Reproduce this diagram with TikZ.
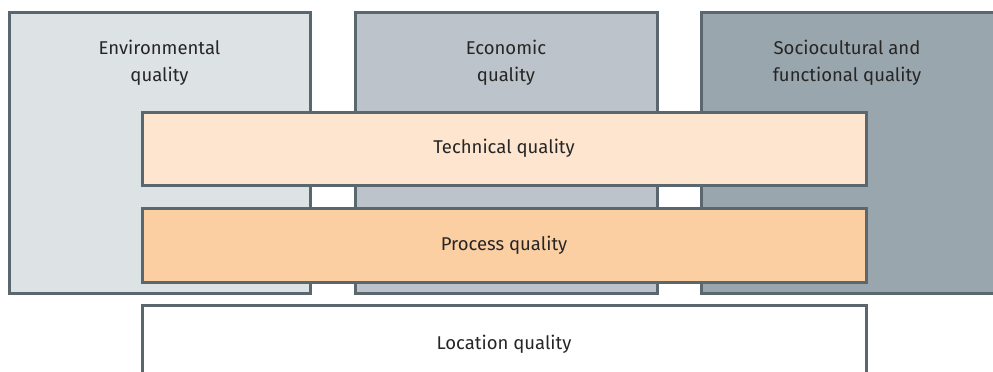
\documentclass[tikz,border=0pt]{standalone}
\usepackage{fontspec}
\setmainfont{Fira Sans}
\definecolor{edge}{HTML}{5A676F}
\definecolor{envfill}{HTML}{DDE2E5}
\definecolor{ecofill}{HTML}{BCC3CA}
\definecolor{socfill}{HTML}{9AA6AD}
\definecolor{techfill}{HTML}{FEE5CF}
\definecolor{procfill}{HTML}{FCCFA3}
\definecolor{txt}{HTML}{262626}
\tikzset{
  x=1pt, y=-1pt,
  band/.style={draw=edge, line width=3pt},
  lbl/.style={font=\fontsize{18.5}{27}\selectfont, text=txt, align=center, anchor=center, inner sep=0pt},
}
\begin{document}
\begin{tikzpicture}
\useasboundingbox (0,0) rectangle (993,372);
% the three pillars
\draw[band, fill=envfill] (9,12) rectangle (310,293);
\node[lbl] (env) at (159.5,62.5) {Environmental\\quality};
\draw[band, fill=ecofill] (355,12) rectangle (657,293);
\node[lbl] (eco) at (506,62.5) {Economic\\quality};
\draw[band, fill=socfill] (701,12) rectangle (1005,293);
\node[lbl] (soc) at (847,62.5) {Sociocultural and\\functional quality};
% cross-cutting bands
\draw[band, fill=techfill] (142,112) rectangle (866,185);
\node[lbl] (tech) at (504,148.5) {Technical quality};
\draw[band, fill=procfill] (142,208) rectangle (866,282);
\node[lbl] (proc) at (504,245) {Process quality};
\draw[band, fill=white] (142,305) rectangle (866,385);
\node[lbl] (loc) at (504,344) {Location quality};
\end{tikzpicture}
\end{document}
